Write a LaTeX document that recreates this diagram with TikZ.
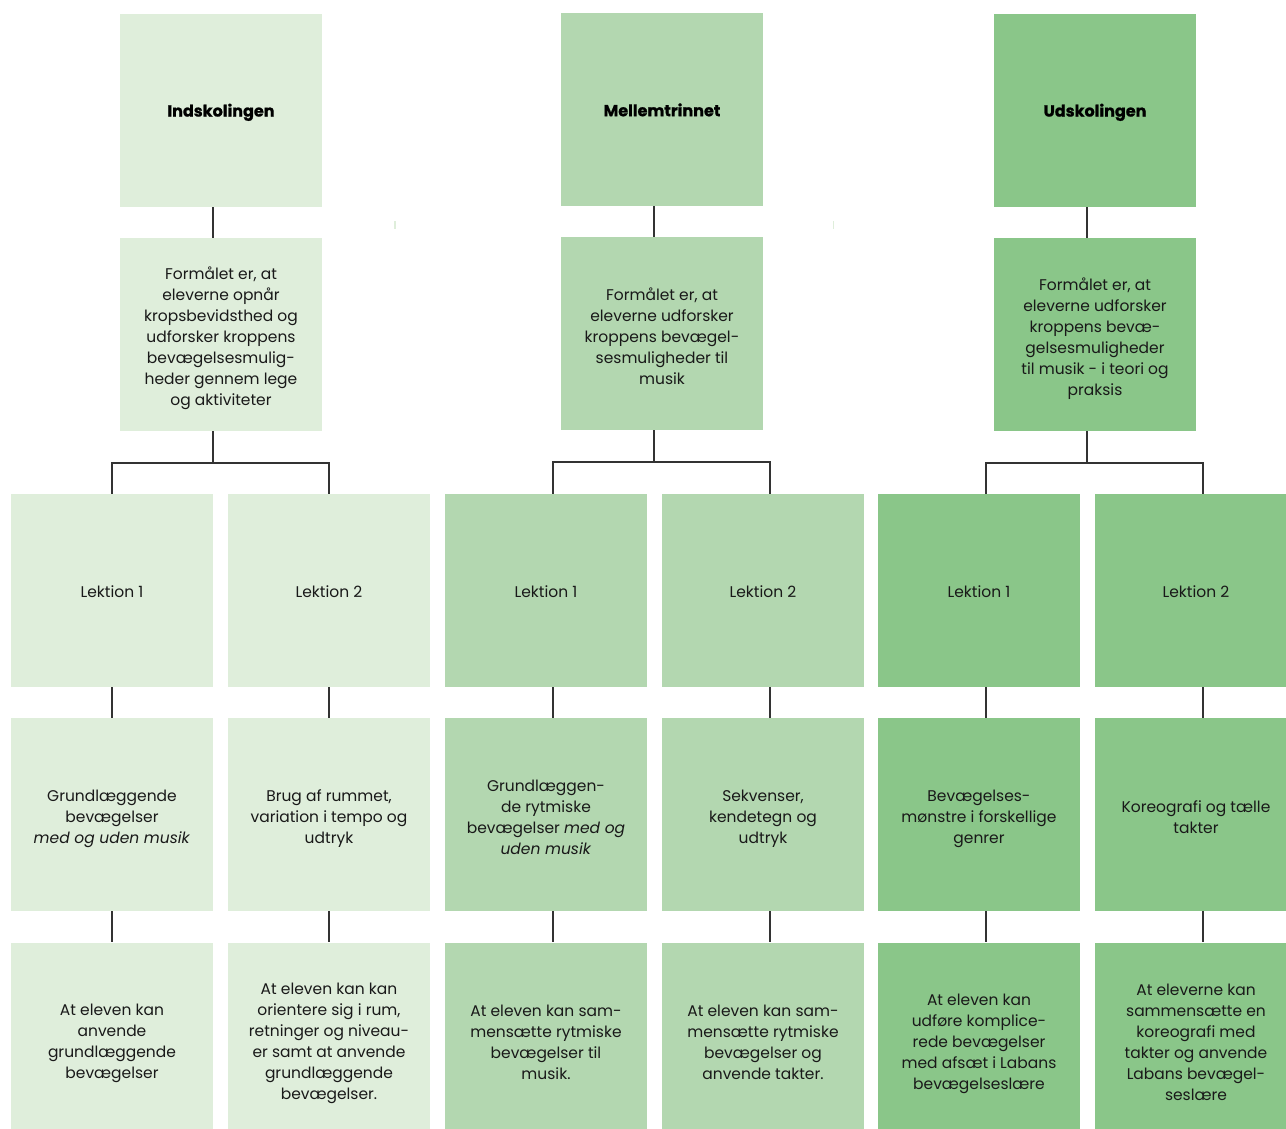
\documentclass[tikz,border=0pt]{standalone}
\usepackage{fontspec}
\setmainfont{Poppins}
\newfontfamily\tykfont{Poppins}[BoldFeatures={FakeBold=1}]
\usepackage{tikz}

\definecolor{lys}{HTML}{DFEEDB}
\definecolor{mellem}{HTML}{B3D7B0}
\definecolor{mork}{HTML}{8AC689}
\definecolor{streg}{HTML}{333333}

% strut for the first line of the longer texts
\newcommand{\hoj}{\rule{0pt}{20.5pt}}

\tikzset{
  boks/.style={rectangle, inner sep=0pt, minimum width=202pt, minimum height=193pt,
    align=center, text=black!90, font=\fontsize{15.5}{21}\selectfont,
    execute at begin node={\rule{0pt}{16.5pt}},
    execute at end node={\rule[-3pt]{0pt}{3pt}}},
  titel/.style={text=black, font=\fontsize{16}{21}\selectfont\tykfont\bfseries},
  forbind/.style={draw=streg, line width=1.5pt},
}

\begin{document}
\begin{tikzpicture}[x=1pt, y=-1pt]
\useasboundingbox (0,0) rectangle (1286,1129);

% Indskolingen
\node (ind) at (221,110.5) [boks, fill=lys, titel] {Indskolingen};
\node (indf) at (221,334.5) [boks, fill=lys] {\hoj Formålet er, at\\eleverne opnår\\kropsbevidsthed og\\udforsker kroppens\\bevægelsesmulig-\\heder gennem lege\\og aktiviteter};
\node (ind1) at (112,590.5) [boks, fill=lys] {Lektion 1};
\node (ind2) at (329,590.5) [boks, fill=lys] {Lektion 2};
\node (ind1a) at (112,814.5) [boks, fill=lys] {\hoj Grundlæggende\\bevægelser\\\textit{med og uden musik}};
\node (ind2a) at (329,814.5) [boks, fill=lys] {\hoj Brug af rummet,\\variation i tempo og\\udtryk};
\node (ind1b) at (112,1039) [boks, fill=lys] {\hoj At eleven kan\\anvende\\grundlæggende\\bevægelser};
\node (ind2b) at (329,1039) [boks, fill=lys] {\hoj At eleven kan kan\\orientere sig i rum,\\retninger og niveau-\\er samt at anvende\\grundlæggende\\bevægelser.};

% Mellemtrinnet
\node (mel) at (662,109.5) [boks, fill=mellem, titel] {Mellemtrinnet};
\node (melf) at (662,333.5) [boks, fill=mellem] {\hoj Formålet er, at\\eleverne udforsker\\kroppens bevægel-\\sesmuligheder til\\musik};
\node (mel1) at (546,590.5) [boks, fill=mellem] {Lektion 1};
\node (mel2) at (763,590.5) [boks, fill=mellem] {Lektion 2};
\node (mel1a) at (546,814.5) [boks, fill=mellem] {\hoj Grundlæggen-\\de rytmiske\\bevægelser \textit{med og}\\\textit{uden musik}};
\node (mel2a) at (763,814.5) [boks, fill=mellem] {\hoj Sekvenser,\\kendetegn og\\udtryk};
\node (mel1b) at (546,1039) [boks, fill=mellem] {\hoj At eleven kan sam-\\mensætte rytmiske\\bevægelser til\\musik.};
\node (mel2b) at (763,1039) [boks, fill=mellem] {\hoj At eleven kan sam-\\mensætte rytmiske\\bevægelser og\\anvende takter.};

% Udskolingen
\node (uds) at (1095,110.5) [boks, fill=mork, titel] {Udskolingen};
\node (udsf) at (1095,334.5) [boks, fill=mork] {\hoj Formålet er, at\\eleverne udforsker\\kroppens bevæ-\\gelsesmuligheder\\til musik - i teori og\\praksis};
\node (uds1) at (979,590.5) [boks, fill=mork] {Lektion 1};
\node (uds2) at (1196,590.5) [boks, fill=mork] {Lektion 2};
\node (uds1a) at (979,814.5) [boks, fill=mork] {\hoj Bevægelses-\\mønstre i forskellige\\genrer};
\node (uds2a) at (1196,814.5) [boks, fill=mork] {\hoj Koreografi og tælle\\takter};
\node (uds1b) at (979,1039) [boks, fill=mork] {\hoj At eleven kan\\udføre komplice-\\rede bevægelser\\med afsæt i Labans\\bevægelseslære};
\node (uds2b) at (1196,1039) [boks, fill=mork] {\hoj At eleverne kan\\sammensætte en\\koreografi med\\takter og anvende\\Labans bevægel-\\seslære};

% small marks
\fill[lys] (394,221) rectangle (395.5,229);
\fill[lys] (832.5,221) rectangle (834,229);

% connectors
\draw[forbind] ([xshift=-8]ind.south) -- ([xshift=-8]indf.north);
\draw[forbind] ([xshift=-8]indf.south) -- ++(0,32) coordinate (indm);
\draw[forbind] (ind1.north) |- (indm) -| (ind2.north);
\draw[forbind] (ind1.south) -- (ind1a.north) (ind1a.south) -- (ind1b.north);
\draw[forbind] (ind2.south) -- (ind2a.north) (ind2a.south) -- (ind2b.north);

\draw[forbind] ([xshift=-8]mel.south) -- ([xshift=-8]melf.north);
\draw[forbind] ([xshift=-8]melf.south) -- ++(0,32) coordinate (melm);
\draw[forbind] ([xshift=7]mel1.north) |- (melm) -| ([xshift=7]mel2.north);
\draw[forbind] ([xshift=7]mel1.south) -- ([xshift=7]mel1a.north) ([xshift=7]mel1a.south) -- ([xshift=7]mel1b.north);
\draw[forbind] ([xshift=7]mel2.south) -- ([xshift=7]mel2a.north) ([xshift=7]mel2a.south) -- ([xshift=7]mel2b.north);

\draw[forbind] ([xshift=-8]uds.south) -- ([xshift=-8]udsf.north);
\draw[forbind] ([xshift=-8]udsf.south) -- ++(0,32) coordinate (udsm);
\draw[forbind] ([xshift=7]uds1.north) |- (udsm) -| ([xshift=7]uds2.north);
\draw[forbind] ([xshift=7]uds1.south) -- ([xshift=7]uds1a.north) ([xshift=7]uds1a.south) -- ([xshift=7]uds1b.north);
\draw[forbind] ([xshift=7]uds2.south) -- ([xshift=7]uds2a.north) ([xshift=7]uds2a.south) -- ([xshift=7]uds2b.north);
\end{tikzpicture}
\end{document}
